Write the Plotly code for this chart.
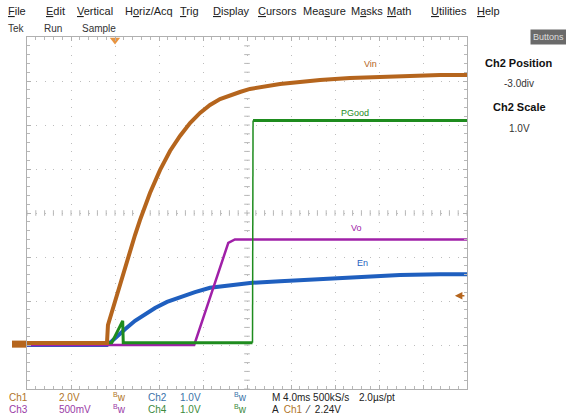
import plotly.graph_objects as go
import numpy as np

W, H = 566, 418

# time axis in ms (4 ms/div, trigger at t = 0)
vin_t = [-8.0, -0.73, -0.64, -0.45, 0.0, 0.45, 0.91, 1.36, 1.82, 2.27, 2.73, 3.18, 4.09, 5.0, 5.91, 6.82,
         7.73, 8.64, 9.55, 10.45, 11.36, 12.27, 13.64, 15.0, 16.82, 18.64, 21.36, 25.91, 29.55, 32.0]
vin_v = [0.09, 0.09, 0.91, 1.23, 2.05, 2.82, 3.59, 4.32, 5.0, 5.68, 6.32, 6.91, 7.95, 8.82, 9.5, 10.09,
         10.55, 10.91, 11.18, 11.36, 11.5, 11.64, 11.77, 11.86, 11.95, 12.05, 12.14, 12.23, 12.27, 12.27]

en_t = [-8.0, -0.73, -0.27, 0.18, 0.91, 1.82, 2.73, 3.64, 4.73, 5.91, 7.27, 8.64, 10.45, 12.27, 15.0,
        18.64, 22.27, 25.91, 29.55, 32.0]
en_v = [0.0, 0.0, 0.09, 0.20, 0.36, 0.55, 0.70, 0.84, 0.98, 1.09, 1.20, 1.30, 1.36, 1.41, 1.45,
        1.50, 1.55, 1.59, 1.61, 1.61]

vo_t = [-8.0, 7.2, 10.3, 10.9, 32.0]
vo_v = [0.0, 0.0, 1.16, 1.2, 1.2]

pg_t = [-8.0, -0.3, 0.7, 0.75, 12.5, 12.55, 32.0]
pg_v = [0.05, 0.05, 0.55, 0.05, 0.05, 5.1, 5.1]

# channel settings
ch_scale = {'Ch1': 2.0, 'Ch2': 1.0, 'Ch3': 0.5, 'Ch4': 1.0}
ch_pos = -3.0
trig_level = 2.24

BROWN = '#b5651d'
GREEN = '#1e8c1e'
MAGENTA = '#a020a8'
BLUE = '#1f5fbf'


def div(vals, ch):
    return [v / ch_scale[ch] + ch_pos for v in vals]


def px(x, y):
    return x / W, 1 - y / H


fig = go.Figure()

# centre cross tick marks
cx = np.arange(-8, 32.01, 0.8)
cy = np.arange(-4, 4.01, 0.2)
fig.add_trace(go.Scatter(x=cx, y=[0] * len(cx), mode='markers', hoverinfo='skip',
                         marker=dict(symbol='line-ns', size=4, line=dict(width=1, color='#b8b8b8'))))
fig.add_trace(go.Scatter(x=[12] * len(cy), y=cy, mode='markers', hoverinfo='skip',
                         marker=dict(symbol='line-ew', size=4, line=dict(width=1, color='#b8b8b8'))))

fig.add_trace(go.Scatter(x=en_t, y=div(en_v, 'Ch2'), mode='lines', line=dict(color=BLUE, width=4)))
fig.add_trace(go.Scatter(x=vo_t, y=div(vo_v, 'Ch3'), mode='lines', line=dict(color=MAGENTA, width=2.5)))
fig.add_trace(go.Scatter(x=pg_t[:5] + [None] + pg_t[5:], y=div(pg_v[:5], 'Ch4') + [None] + div(pg_v[5:], 'Ch4'),
                         mode='lines', line=dict(color=GREEN, width=3)))
fig.add_trace(go.Scatter(x=pg_t[4:6], y=div(pg_v[4:6], 'Ch4'), mode='lines', line=dict(color=GREEN, width=1.5)))
fig.add_trace(go.Scatter(x=vin_t, y=div(vin_v, 'Ch1'), mode='lines', line=dict(color=BROWN, width=4)))

# trigger position marker
fig.add_trace(go.Scatter(x=[0], y=[3.93], mode='markers', cliponaxis=False,
                         marker=dict(symbol='triangle-down', size=9, color='#e89440')))

axis_common = dict(showgrid=True, gridcolor='#bdbdbd', griddash='1px,7.8px', gridwidth=1,
                   showline=True, linecolor='#b0b0b0', linewidth=1, mirror='ticks',
                   ticks='inside', ticklen=4, tickcolor='#b0b0b0', showticklabels=False,
                   zeroline=False, fixedrange=True)
fig.update_xaxes(range=[-8, 32], tick0=-8, dtick=4, domain=[27 / W, 467 / W],
                 minor=dict(dtick=0.8, tick0=-8, ticks='inside', ticklen=3, tickcolor='#b8b8b8'),
                 **axis_common)
fig.update_yaxes(range=[-4, 4], tick0=-4, dtick=1, domain=[1 - 389 / H, 1 - 37 / H],
                 minor=dict(dtick=0.2, tick0=-4, ticks='inside', ticklen=3, tickcolor='#b8b8b8'),
                 **axis_common)

# channel ground marker at left edge
gy = ch_pos + 0.02
fig.add_shape(type='rect', xref='paper', yref='y', x0=12 / W, x1=26 / W, y0=gy - 0.08, y1=gy + 0.08,
              fillcolor=BROWN, line=dict(width=0), layer='above')

ann = []
FONT = 'Liberation Sans Narrow, Liberation Sans, Arial'


def text(x, y, s, color='#333333', size=10, anchor='left', bold=False):
    xx, yy = px(x, y)
    if bold:
        s = '<b>' + s + '</b>'
    ann.append(dict(x=xx, y=yy, xref='paper', yref='paper', text=s, showarrow=False,
                    xanchor=anchor, yanchor='middle', font=dict(color=color, size=size, family=FONT)))


menu = [('<u>F</u>ile', 6), ('<u>E</u>dit', 44), ('<u>V</u>ertical', 75), ('H<u>o</u>riz/Acq', 123),
        ('<u>T</u>rig', 178), ('<u>D</u>isplay', 211), ('<u>C</u>ursors', 256), ('Mea<u>s</u>ure', 301),
        ('M<u>a</u>sks', 349), ('<u>M</u>ath', 385), ('<u>U</u>tilities', 429), ('<u>H</u>elp', 475)]
for s, x in menu:
    text(x, 11, s, color='#222222', size=11)
text(6, 29, 'Tek', size=10)
text(42, 29, 'Run', size=10)
text(80, 29, 'Sample', size=10)

# Buttons pill
xx, yy = px(548, 36.5)
ann.append(dict(x=xx, y=yy, xref='paper', yref='paper', text='Buttons', showarrow=False,
                xanchor='center', yanchor='middle',
                bgcolor='#6a6a6a', borderpad=2, font=dict(color='#dedede', size=9, family=FONT)))

text(519, 63, 'Ch2 Position', color='#111111', size=11, anchor='center', bold=True)
text(519, 84, '-3.0div', size=10, anchor='center')
text(519, 107, 'Ch2 Scale', color='#111111', size=11, anchor='center', bold=True)
text(519, 128, '1.0V', size=10, anchor='center')

# trace labels
text(370, 64, 'Vin', BROWN, 9, 'center')
text(355, 113, 'PGood', GREEN, 9, 'center')
text(356, 228, 'Vo', MAGENTA, 9, 'center')
text(362, 263, 'En', BLUE, 9, 'center')

# status lines
C1, C2, C3, C4 = '#b07428', '#3a72a8', '#9a3aa6', '#3c8a3c'
text(7, 397, 'Ch1', C1)
text(57, 397, '2.0V', C1)
text(111, 397, '<sup>B</sup>w', C1)
text(146, 397, 'Ch2', C2)
text(178, 397, '1.0V', C2)
text(232, 397, '<sup>B</sup>w', C2)
text(270, 397, 'M 4.0ms 500kS/s', '#222222')
text(357, 397, '2.0µs/pt', '#222222')
text(7, 409, 'Ch3', C3)
text(57, 409, '500mV', C3)
text(111, 409, '<sup>B</sup>w', C3)
text(146, 409, 'Ch4', C4)
text(178, 409, '1.0V', C4)
text(232, 409, '<sup>B</sup>w', C4)
text(270, 409, 'A  <span style="color:%s">Ch1</span>  ⁄  %.2fV' % (C1, trig_level), '#222222')

# trigger level arrow on the right edge
ann.append(dict(x=30.9, y=trig_level / ch_scale['Ch1'] + ch_pos, xref='x', yref='y', text='',
                showarrow=True, arrowhead=2, arrowsize=1, arrowwidth=1.5, arrowcolor=BROWN,
                ax=11, ay=0))

fig.update_layout(width=W, height=H, margin=dict(l=0, r=0, t=0, b=0),
                  paper_bgcolor='white', plot_bgcolor='white', showlegend=False,
                  annotations=ann)

fig.write_html("out.html", config={'displayModeBar': False},
               post_script="document.body.style.margin='0px';")
